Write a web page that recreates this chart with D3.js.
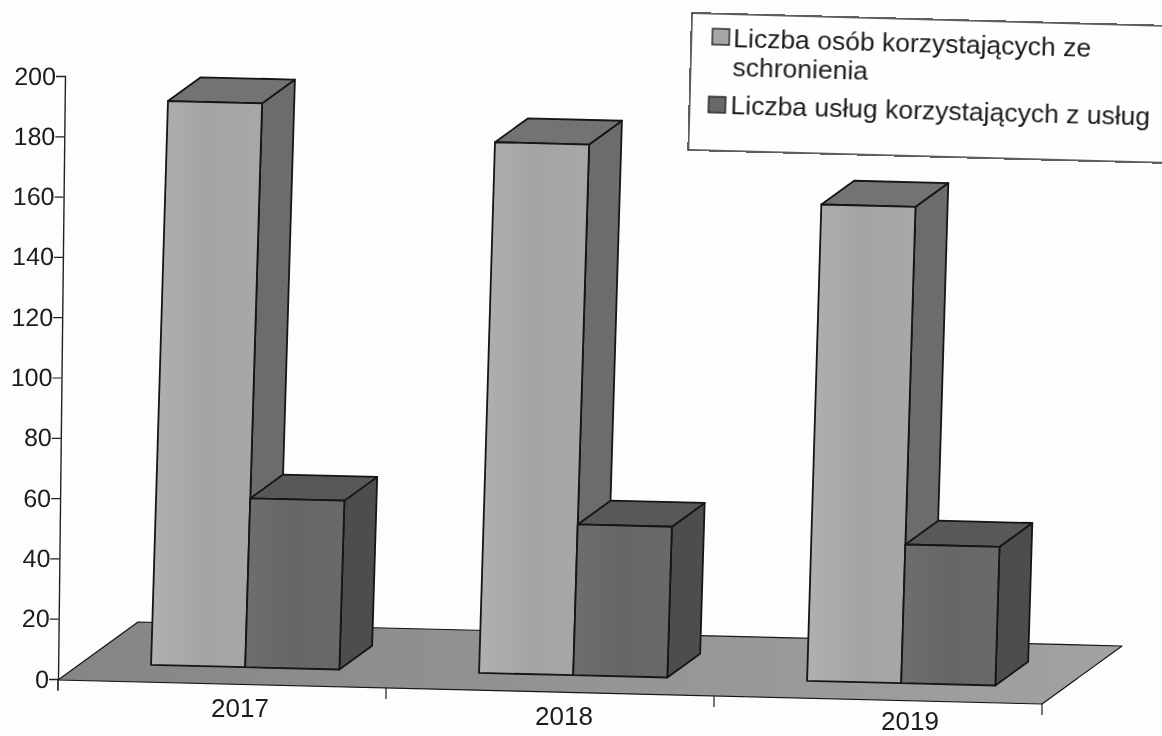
<!DOCTYPE html>
<html>
<head>
<meta charset="utf-8">
<script src="https://cdn.jsdelivr.net/npm/d3@7"></script>
<style>
  html, body { margin: 0; padding: 0; background: #fdfdfd; overflow: hidden; }
  text { font-family: "Liberation Sans", Arial, sans-serif; fill: #1c1c1c; }
</style>
</head>
<body>
<div id="chart"></div>
<script>
// Data
const years = ["2017", "2018", "2019"];
const osoby = [187, 176, 158];
const uslugi = [56, 50, 46];
const yTicks = [0, 20, 40, 60, 80, 100, 120, 140, 160, 180, 200];
const legendLines = ["Liczba osób korzystających ze", "schronienia", "Liczba usług korzystających z usług"];

const width = 1162, height = 736;
const svg = d3.select("#chart").append("svg").attr("width", width).attr("height", height);
const defs = svg.append("defs");

function gradient(id, stops) {
  const g = defs.append("linearGradient").attr("id", id);
  stops.forEach((c, i) => g.append("stop").attr("offset", i / (stops.length - 1)).attr("stop-color", c));
}
gradient("floorFill", ["#858585", "#949494", "#a2a2a2"]);
gradient("lightFront", ["#b0b0b0", "#a4a4a4", "#a8a8a8"]);
gradient("darkFront", ["#6e6e6e", "#666666", "#696969"]);
defs.append("filter").attr("id", "scan").append("feGaussianBlur").attr("stdDeviation", 0.45);

const root = svg.append("g").attr("filter", "url(#scan)");

// The scan is skewed, so the picture plane gets its own little projection.
const xPos = d3.scaleLinear().domain([0, years.length]).range([58, 1042]);
const xDrop = d3.scaleLinear().domain([0, years.length]).range([680, 704]);
const yScale = d3.scaleLinear().domain([0, 200]).range([0, 603]);
const depthX = d3.scaleLinear().domain([0, 1]).range([0, 80]);
const depthY = d3.scaleLinear().domain([0, 1]).range([0, -58]);
const lean = 0.03; // bars lean more than the axis does on the scan

function pt(c, v, d) {
  const h = yScale(v);
  return [xPos(c) + depthX(d) + h * lean, xDrop(c) + depthY(d) - h];
}
const poly = (sel, pts, fill) => sel.append("polygon")
  .attr("points", pts.map(p => p.join(",")).join(" "))
  .attr("fill", fill)
  .attr("stroke", "#141414")
  .attr("stroke-width", 1.8)
  .attr("stroke-linejoin", "round");

// floor
poly(root, [pt(0, 0, 0), pt(0, 0, 1), pt(3, 0, 1), pt(3, 0, 0)], "url(#floorFill)").attr("stroke-width", 1.2);

// ticks under the floor
d3.range(years.length + 1).forEach(c => {
  const [x, y] = pt(c, 0, 0);
  root.append("line").attr("x1", x).attr("x2", x).attr("y1", y).attr("y2", y + 11)
    .attr("stroke", "#222").attr("stroke-width", 1.2);
});

// y axis, skewed a bit to follow the scan
const yAxisScale = d3.scaleLinear().domain([0, 200]).range([679, 76]);
const yAxis = d3.axisLeft(yAxisScale).tickValues(yTicks).tickSize(9).tickPadding(0);
const axisG = root.append("g")
  .attr("transform", "matrix(1,0,-0.0116,1," + (58 + 679 * 0.0116) + ",0)")
  .call(yAxis);
axisG.selectAll("line").attr("stroke", "#222").attr("stroke-width", 1.2);
axisG.select(".domain").attr("stroke", "#222").attr("stroke-width", 1.4);
axisG.selectAll("text").attr("font-size", 25).attr("fill", "#1c1c1c");
root.append("line").attr("x1", 58).attr("x2", 57.8).attr("y1", 679).attr("y2", 690)
  .attr("stroke", "#222").attr("stroke-width", 1.2);

// bars
const barStart = 0.213, barW = 0.287, d0 = 0.29, d1 = 0.7;
function bar(c, v, colors) {
  const l = c, r = c + barW;
  poly(root, [pt(r, 0, d0), pt(r, 0, d1), pt(r, v, d1), pt(r, v, d0)], colors.side);
  poly(root, [pt(l, v, d0), pt(l, v, d1), pt(r, v, d1), pt(r, v, d0)], colors.top);
  poly(root, [pt(l, 0, d0), pt(r, 0, d0), pt(r, v, d0), pt(l, v, d0)], colors.front);
}
const lightColors = { front: "url(#lightFront)", top: "#737373", side: "#6c6c6c" };
const darkColors = { front: "url(#darkFront)", top: "#585858", side: "#4e4e4e" };
years.forEach((y, i) => {
  bar(i + barStart, osoby[i], lightColors);
  bar(i + barStart + barW, uslugi[i], darkColors);
});

// category labels
const labelNudge = [18, 14, 32];
const labelDrop = [33, 33, 30];
root.selectAll(".cat").data(years).join("text")
  .attr("class", "cat")
  .attr("x", (d, i) => pt(i + 0.5, 0, 0)[0] + labelNudge[i])
  .attr("y", (d, i) => pt(i + 0.5, 0, 0)[1] + labelDrop[i])
  .attr("text-anchor", "middle")
  .attr("font-size", 26)
  .text(d => d);

// legend, tilted like the page
const legend = root.append("g").attr("transform", "translate(692,13) rotate(1.55)");
legend.append("rect").attr("x", 0).attr("y", 0).attr("width", 520).attr("height", 137)
  .attr("fill", "#fefefe").attr("stroke", "#1a1a1a").attr("stroke-width", 1.4);
const legendRows = [
  { t: legendLines[0], x: 42, y: 33 },
  { t: legendLines[1], x: 42, y: 62 },
  { t: legendLines[2], x: 41, y: 100 }
];
legend.selectAll(".lg").data(legendRows).join("text")
  .attr("class", "lg")
  .attr("x", d => d.x).attr("y", d => d.y)
  .attr("font-size", 26.5)
  .text(d => d.t);
legend.append("rect").attr("x", 21).attr("y", 15).attr("width", 17).attr("height", 16)
  .attr("fill", "#a6a6a6").attr("stroke", "#222").attr("stroke-width", 1.4);
legend.append("rect").attr("x", 19).attr("y", 83).attr("width", 17).attr("height", 16)
  .attr("fill", "#676767").attr("stroke", "#222").attr("stroke-width", 1.4);
</script>
</body>
</html>
